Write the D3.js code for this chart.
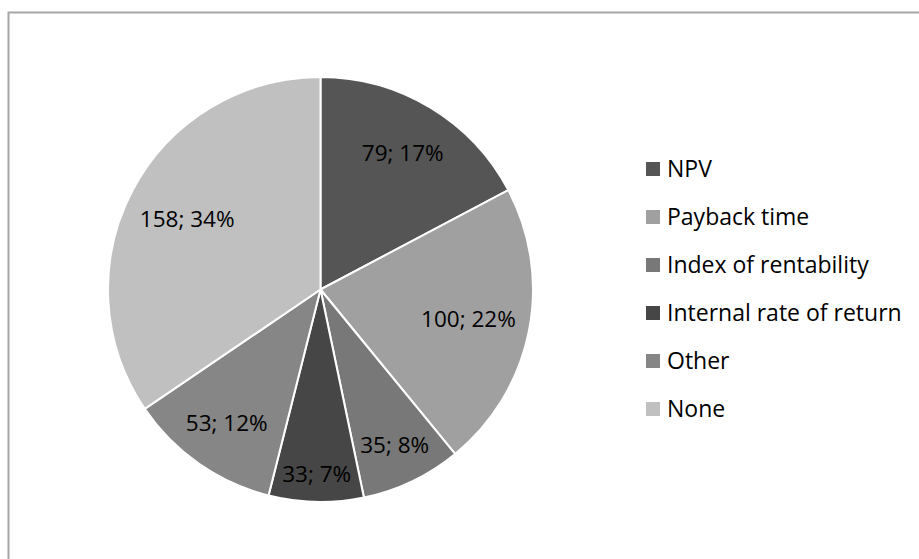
<!DOCTYPE html>
<html>
<head>
<meta charset="utf-8">
<script src="https://cdn.jsdelivr.net/npm/d3@7"></script>
<style>
  body { margin: 0; background: #fff; }
  text { font-family: "Open Sans", sans-serif; fill: #000; }
</style>
</head>
<body>
<div id="chart"></div>
<script>
// Data
var categories = ["NPV", "Payback time", "Index of rentability", "Internal rate of return", "Other", "None"];
var values = [79, 100, 35, 33, 53, 158];
var colors = ["#555555", "#a0a0a0", "#787878", "#464646", "#868686", "#c0c0c0"];

// Label distance from centre, as fraction of radius (Excel best fit look)
var labelRadius = [0.75, 0.71, 0.81, 0.87, 0.77, 0.71];

var width = 919, height = 559;
var cx = 320.5, cy = 289.5, radius = 212.5;

var svg = d3.select("#chart")
    .append("svg")
        .attr("width", width)
        .attr("height", height);

// Chart frame (runs off the right and bottom edge)
svg.append("rect")
    .attr("x", 8.5)
    .attr("y", 12.5)
    .attr("width", 930)
    .attr("height", 570)
    .attr("fill", "none")
    .attr("stroke", "#a6a6a6")
    .attr("stroke-width", 2);

var total = d3.sum(values);
var data = categories.map(function(c, i) {
    return {name: c, value: values[i], fill: colors[i], lr: labelRadius[i]};
});

var pie = d3.pie()
    .value(d => d.value)
    .sort(null);

var arc = d3.arc()
    .innerRadius(0)
    .outerRadius(radius);

var g = svg.append("g")
    .attr("transform", "translate(" + cx + "," + cy + ")");

var arcs = pie(data);

// Slices
g.selectAll("path")
    .data(arcs)
    .join("path")
        .attr("d", arc)
        .attr("fill", d => d.data.fill)
        .attr("stroke", "#fff")
        .attr("stroke-width", 2)
        .attr("stroke-linejoin", "round");

// Labels
g.selectAll("text.lbl")
    .data(arcs)
    .join("text")
        .attr("class", "lbl")
        .attr("transform", function(d) {
            let r = radius * d.data.lr;
            let a = (d.startAngle + d.endAngle) / 2;
            return "translate(" + (Math.sin(a) * r) + "," + (-Math.cos(a) * r) + ")";
        })
        .attr("text-anchor", "middle")
        .attr("dy", "0.35em")
        .style("font-size", "22.5px")
        .text(d => d.data.value + "; " + Math.round(d.data.value / total * 100) + "%");

// Legend
var legend = svg.append("g")
    .attr("transform", "translate(646,169)");

var rows = legend.selectAll("g")
    .data(data)
    .join("g")
        .attr("transform", (d, i) => "translate(0," + (i * 48) + ")");

rows.append("rect")
    .attr("x", 0)
    .attr("y", -7)
    .attr("width", 14)
    .attr("height", 14)
    .attr("fill", d => d.fill);

rows.append("text")
    .attr("x", 21)
    .attr("dy", "0.35em")
    .style("font-size", "23px")
    .text(d => d.name);
</script>
</body>
</html>
